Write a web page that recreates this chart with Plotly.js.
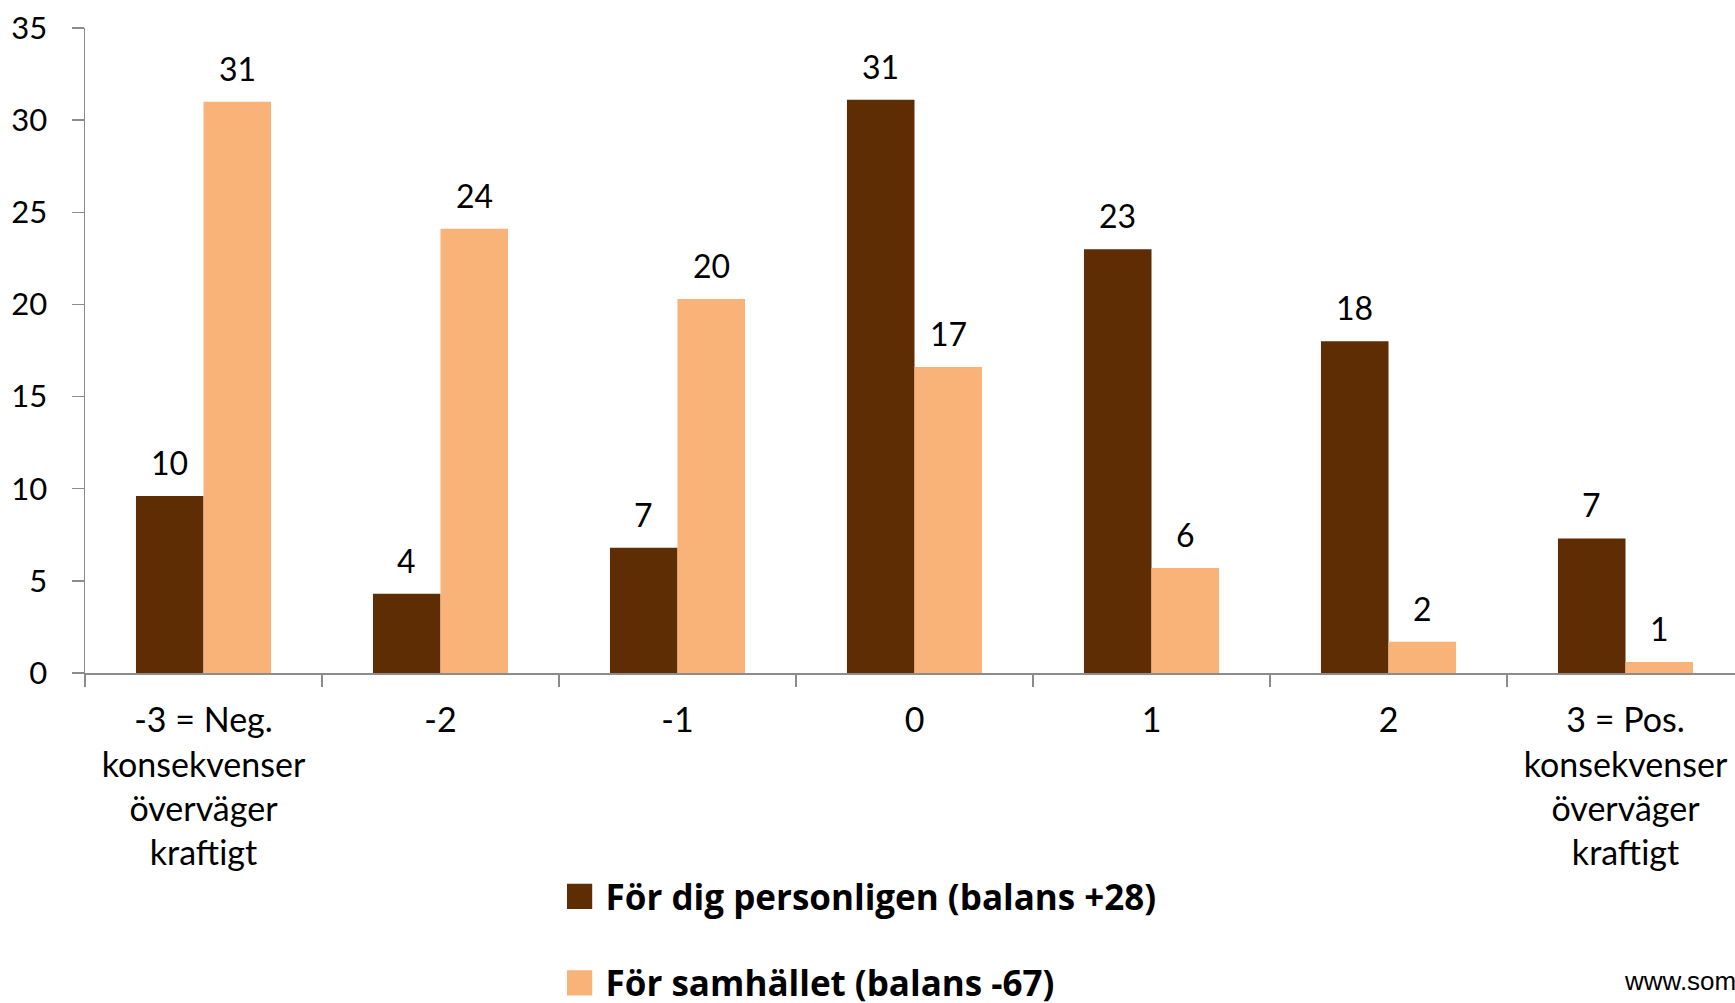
<!DOCTYPE html>
<html><head><meta charset="utf-8">
<script src="https://cdn.plot.ly/plotly-3.0.1.min.js"></script>
<style>html,body{margin:0;padding:0;overflow:hidden;background:#fff}</style>
</head><body><div id="chart" style="width:1735px;height:1003px"></div>
<script>
const categories = ["-3 = Neg.<br>konsekvenser<br>överväger<br>kraftigt", "-2", "-1", "0", "1", "2", "3 = Pos.<br>konsekvenser<br>överväger<br>kraftigt"];
const seriesNames = ["För dig personligen (balans +28)", "För samhället (balans -67)"];
const personalValues = [9.6, 4.3, 6.8, 31.1, 23, 18, 7.3];
const societyValues = [31, 24.1, 20.3, 16.6, 5.7, 1.7, 0.6];
const personalLabels = ["10", "4", "7", "31", "23", "18", "7"];
const societyLabels = ["31", "24", "20", "17", "6", "2", "1"];
const yTicks = [0, 5, 10, 15, 20, 25, 30, 35];
const sourceText = "www.som.gu.se";

const colors = ["#5E2D03", "#F9B378"];
const BARGAP = 0.43;
const offset = (1 - BARGAP) / 4;
const FONT = "Lato, 'Open Sans', sans-serif";
const LEGEND_FONT = "'Open Sans', Lato, sans-serif";

const data = [
  {type: 'bar', name: seriesNames[0], x: categories, y: personalValues, marker: {color: colors[0]}, legendgroup: 'a', hoverinfo: 'none'},
  {type: 'bar', name: seriesNames[1], x: categories, y: societyValues, marker: {color: colors[1]}, legendgroup: 'b', hoverinfo: 'none'}
];

const annotations = [];
personalValues.forEach((v, i) => annotations.push({x: i - offset, y: v, xref: 'x', yref: 'y', text: personalLabels[i], showarrow: false, yanchor: 'bottom', yshift: 12, font: {size: 32, color: '#000', family: FONT}}));
societyValues.forEach((v, i) => annotations.push({x: i + offset, y: v, xref: 'x', yref: 'y', text: societyLabels[i], showarrow: false, yanchor: 'bottom', yshift: 12, font: {size: 32, color: '#000', family: FONT}}));
annotations.push({x: 0.9315, y: -0.478, xref: 'paper', yref: 'paper', xanchor: 'left', yanchor: 'middle', text: sourceText, showarrow: false, font: {size: 26, color: '#000', family: "'Liberation Sans', Arial, sans-serif"}});

const layout = {
  width: 1735, height: 1003,
  margin: {l: 85, r: 0, t: 28, b: 330, pad: 0, autoexpand: false},
  paper_bgcolor: '#fff', plot_bgcolor: '#fff',
  font: {family: FONT, size: 31, color: '#000'},
  barmode: 'group', bargap: BARGAP, bargroupgap: 0,
  xaxis: {type: 'category', range: [-0.5, 6.462], showline: true, linecolor: '#8C8C8C', linewidth: 1.5,
    ticks: 'outside', tickson: 'boundaries', ticklen: 12, tickcolor: '#8C8C8C', tickwidth: 1.5, tickangle: 0,
    showgrid: false, zeroline: false, tickfont: {size: 34, family: FONT, color: '#000'}, ticklabelstandoff: 17, fixedrange: true, automargin: false},
  yaxis: {range: [0, 35], tickvals: yTicks, showline: true, linecolor: '#8C8C8C', linewidth: 1.5,
    ticks: 'outside', ticklen: 12, tickcolor: '#8C8C8C', tickwidth: 1.5, showgrid: false, zeroline: false,
    tickfont: {size: 31, family: FONT, color: '#000'}, ticklabelstandoff: 18, fixedrange: true, automargin: false},
  showlegend: true,
  legend: {orientation: 'v', xref: 'container', yref: 'container', x: 0.326, y: 0.1355, xanchor: 'left', yanchor: 'top',
    font: {size: 35, weight: 700, family: LEGEND_FONT, color: '#000'}, traceorder: 'grouped', tracegroupgap: 38,
    bgcolor: 'rgba(0,0,0,0)', borderwidth: 0},
  annotations: annotations
};

function growLegendSymbols(gd) {
  gd.querySelectorAll('.legendpoints path').forEach(p => p.setAttribute('transform', 'translate(14,0) scale(2.1)'));
}
Plotly.newPlot('chart', data, layout, {staticPlot: true, displayModeBar: false}).then(gd => {
  growLegendSymbols(gd);
  setTimeout(() => growLegendSymbols(gd), 50);
});
</script>
</body></html>
